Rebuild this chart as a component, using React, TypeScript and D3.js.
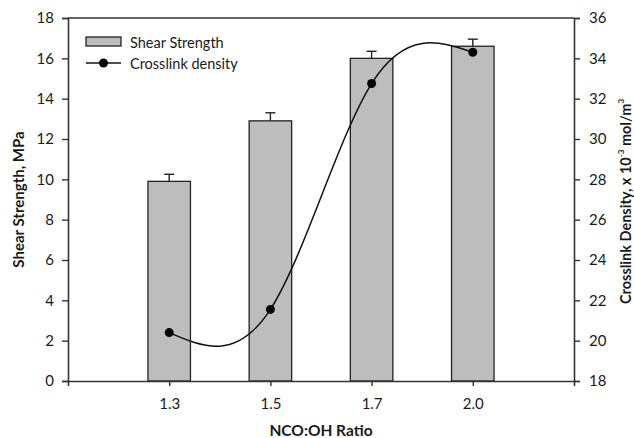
import React, { useEffect, useRef } from 'react';
import * as d3 from 'd3';

// NCO:OH ratios on the x axis
const ratios = ['1.3', '1.5', '1.7', '2.0'];
// shear strength bars (MPa) and their upper error
const shearStrength = [9.9, 12.9, 16.0, 16.6];
const shearError = [0.35, 0.4, 0.35, 0.35];
// crosslink density (x 10^-3 mol/m^3)
const crosslinkDensity = [20.4, 21.55, 32.75, 34.3];

const leftTicks = [0, 2, 4, 6, 8, 10, 12, 14, 16, 18];
const rightTicks = [18, 20, 22, 24, 26, 28, 30, 32, 34, 36];

const W = 634;
const H = 438;
const margin = { top: 18, right: 60, bottom: 57, left: 68 };
const FONT = 'Lato, "Noto Sans", sans-serif';
const AXIS = '#333';
const TEXT = '#1a1a1a';

const App = () => {
  const leftRef = useRef<SVGGElement>(null);
  const rightRef = useRef<SVGGElement>(null);
  const bottomRef = useRef<SVGGElement>(null);

  const x = d3.scalePoint().domain(ratios).range([margin.left, W - margin.right]).padding(1);
  const yL = d3.scaleLinear().domain([0, 18]).range([H - margin.bottom, margin.top]);
  const yR = d3.scaleLinear().domain([18, 36]).range([H - margin.bottom, margin.top]);
  const barW = x.step() * 0.42;

  const line = d3.line<number>()
    .x((_, i) => x(ratios[i])!)
    .y(d => yR(d))
    .curve(d3.curveNatural);

  useEffect(() => {
    const style = (g) => {
      g.select('.domain').attr('stroke', AXIS).attr('stroke-width', 1.6);
      g.selectAll('.tick line').attr('stroke', AXIS).attr('stroke-width', 1.4);
      g.selectAll('.tick text').attr('fill', TEXT).style('font-size', '15px').style('font-family', FONT);
    };
    d3.select(leftRef.current)
      .call(d3.axisLeft(yL).tickValues(leftTicks).tickSizeOuter(0).tickSize(6).tickPadding(8))
      .call(style);
    d3.select(rightRef.current)
      .call(d3.axisRight(yR).tickValues(rightTicks).tickSizeOuter(0).tickSize(6).tickPadding(9))
      .call(style);
    d3.select(bottomRef.current)
      .call(d3.axisBottom(x).tickSizeOuter(0).tickSize(5).tickPadding(12))
      .call(style);
  }, []);

  const plotBottom = H - margin.bottom;
  const midY = (margin.top + plotBottom) / 2;

  return (
    <svg width={W} height={H} style={{ position: 'absolute', left: 0, top: 0, background: '#fff' }}>
      {/* bars */}
      {shearStrength.map((v, i) => (
        <g key={ratios[i]}>
          <line
            x1={x(ratios[i])} x2={x(ratios[i])}
            y1={yL(v)} y2={yL(v + shearError[i])}
            stroke="#222" strokeWidth={1.4}
          />
          <line
            x1={x(ratios[i])! - 5} x2={x(ratios[i])! + 5}
            y1={yL(v + shearError[i])} y2={yL(v + shearError[i])}
            stroke="#222" strokeWidth={1.4}
          />
          <rect
            x={x(ratios[i])! - barW / 2} y={yL(v)}
            width={barW} height={plotBottom - yL(v)}
            fill="#bdbdbd" stroke="#222" strokeWidth={1.3}
          />
        </g>
      ))}

      {/* crosslink density */}
      <path d={line(crosslinkDensity) ?? ''} fill="none" stroke="#111" strokeWidth={1.5} />
      {crosslinkDensity.map((v, i) => (
        <circle key={ratios[i]} cx={x(ratios[i])} cy={yR(v)} r={4.5} fill="#000" />
      ))}

      {/* frame */}
      <line x1={margin.left} x2={W - margin.right} y1={margin.top} y2={margin.top} stroke={AXIS} strokeWidth={1.6} />
      <g ref={leftRef} transform={`translate(${margin.left},0)`} />
      <g ref={rightRef} transform={`translate(${W - margin.right},0)`} />
      <g ref={bottomRef} transform={`translate(0,${plotBottom})`} />

      {/* axis titles */}
      <text
        transform={`translate(24,${midY}) rotate(-90)`}
        textAnchor="middle" fontFamily={FONT} fontWeight="bold" fontSize={15} fill={TEXT}
      >
        Shear Strength, MPa
      </text>
      <text
        transform={`translate(631,${midY + 2}) rotate(-90)`}
        textAnchor="middle" fontFamily={FONT} fontWeight="bold" fontSize={14.5} fill={TEXT}
      >
        Crosslink Density, x 10<tspan fontSize={8} dy={-7}>-3</tspan>
        <tspan dy={7}> mol/m</tspan>
        <tspan fontSize={8} dy={-7}>3</tspan>
      </text>
      <text
        x={(margin.left + W - margin.right) / 2} y={436}
        textAnchor="middle" fontFamily={FONT} fontWeight="bold" fontSize={15.5} fill={TEXT}
      >
        NCO:OH Ratio
      </text>

      {/* legend */}
      <rect x={86} y={37} width={35} height={9} fill="#bdbdbd" stroke="#222" strokeWidth={1.3} />
      <text x={130} y={47.5} fontFamily={FONT} fontSize={14.5} fill={TEXT}>Shear Strength</text>
      <line x1={86} x2={121} y1={63} y2={63} stroke="#111" strokeWidth={1.5} />
      <circle cx={103.5} cy={63} r={4.5} fill="#000" />
      <text x={130} y={68.5} fontFamily={FONT} fontSize={14.5} fill={TEXT}>Crosslink density</text>
    </svg>
  );
};

export default App;
